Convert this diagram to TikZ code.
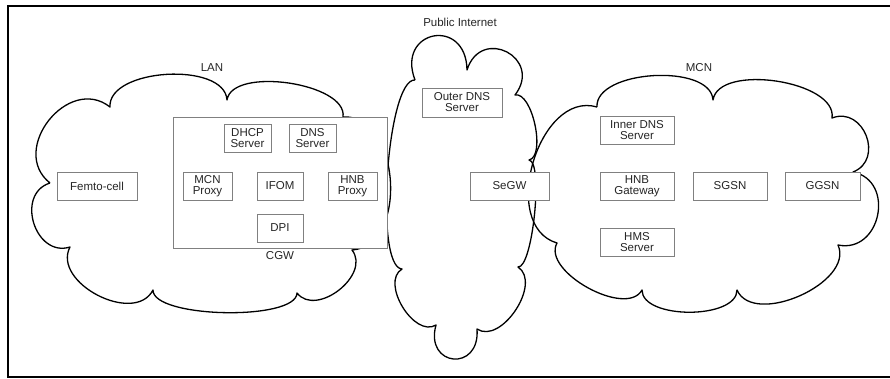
\documentclass[tikz,border=0pt]{standalone}
\usepackage{fontspec}
\setmainfont{Liberation Sans}
\begin{document}
\begin{tikzpicture}[x=1pt,y=-1pt,
  cloud/.style={draw=black, line width=1.3pt, line join=round},
  box/.style={draw=black!50, fill=white, line width=0.8pt, minimum height=28pt, inner sep=0pt, align=center, font=\fontsize{11.5}{11}\selectfont, text=black!85},
  lbl/.style={font=\fontsize{11.5}{11}\selectfont, text=black!85, inner sep=0pt},
  frame/.style={line width=2pt}]
\useasboundingbox (0,0) rectangle (890,378);
% frame
\coordinate (ftr) at (900,6);
\coordinate (ftl) at (8,6);
\coordinate (fbl) at (8,377);
\coordinate (fbr) at (900,377);
\draw[frame] (ftr) -- (ftl) -- (fbl) -- (fbr);
% LAN cloud
\draw[cloud] (50,183) to[bend left=90,looseness=1.4] (110,107)
  to[bend left=90,looseness=0.85] (227,100)
  to[bend left=90,looseness=0.75] (343,117)
  to[bend left=90,looseness=1.1] (352,250)
  to[bend left=90,looseness=1.15] (297,293)
  to[bend left=90,looseness=0.5] (153,290)
  to[bend left=90,looseness=1.1] (70,247)
  to[bend left=90,looseness=1.4] (50,183);
% Internet cloud
\draw[cloud] (415,80) to[bend left=100,looseness=2.6] (467,70)
  to[bend left=100,looseness=2.2] (515,95)
  to[bend left=90,looseness=0.68] (529,160)
  to[bend left=90,looseness=0.35] (518,267)
  to[bend left=90,looseness=1.0] (477,329)
  to[bend left=100,looseness=2.7] (436,325)
  to[bend left=90,looseness=1.0] (402,269)
  to[bend left=90,looseness=0.38] (415,80);
% MCN cloud
\draw[cloud] (597,107) to[bend left=90,looseness=0.82] (713,100)
  to[bend left=90,looseness=0.8] (832,118)
  to[bend left=90,looseness=1.5] (853,172)
  to[bend left=90,looseness=1.5] (838,245)
  to[bend left=90,looseness=0.95] (737,290)
  to[bend left=90,looseness=0.8] (642,290)
  to[bend left=90,looseness=0.85] (557,243)
  to[bend left=90,looseness=1.1] (597,107);
% labels
\node[lbl] (lan) at (212,68) {LAN};
\node[lbl] (mcn) at (699,68) {MCN};
\node[lbl] (pub) at (460,22) {Public Internet};
% LAN boxes
\node[box, minimum width=80pt] (femto) at (97,186) {Femto-cell};
\node[box, minimum width=214pt, minimum height=131pt] (cgw) at (280,182.5) {};
\node[lbl] (cgwl) at (280,256) {CGW};
\node[box, minimum width=47pt] (dhcp) at (247.5,138) {DHCP\\Server};
\node[box, minimum width=47pt] (dns) at (312.5,138) {DNS\\Server};
\node[box, minimum width=49pt] (mcnp) at (207.5,186) {MCN\\Proxy};
\node[box, minimum width=46pt] (ifom) at (280,186) {IFOM};
\node[box, minimum width=49pt] (hnbp) at (352.5,186) {HNB\\Proxy};
\node[box, minimum width=46pt] (dpi) at (280,228) {DPI};
% Internet boxes
\node[box, minimum width=80pt, minimum height=29pt] (odns) at (462,102.5) {Outer DNS\\Server};
\node[box, minimum width=79pt] (segw) at (509.5,186) {SeGW};
% MCN boxes
\node[box, minimum width=74pt] (idns) at (637,130.5) {Inner DNS\\Server};
\node[box, minimum width=74pt] (hnbg) at (637,186) {HNB\\Gateway};
\node[box, minimum width=74pt] (sgsn) at (730,186) {SGSN};
\node[box, minimum width=75pt] (ggsn) at (822.5,186) {GGSN};
\node[box, minimum width=74pt] (hms) at (637,242) {HMS\\Server};
\end{tikzpicture}
\end{document}
